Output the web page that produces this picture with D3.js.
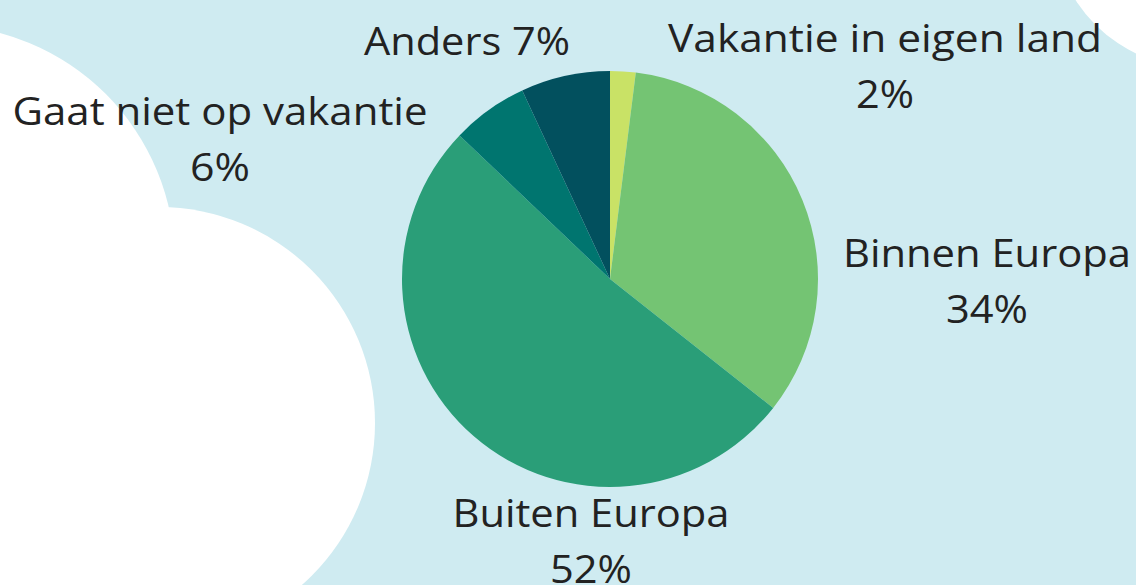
<!DOCTYPE html>
<html>
<head>
<meta charset="utf-8">
<script src="https://cdn.jsdelivr.net/npm/d3@7"></script>
<style>
  html, body { margin: 0; padding: 0; background: #cfebf1; }
  svg { display: block; }
</style>
</head>
<body>
<svg id="chart"></svg>
<script>
// data (clockwise from 12 o'clock)
const categories = ["Vakantie in eigen land", "Binnen Europa", "Buiten Europa", "Gaat niet op vakantie", "Anders"]
const percentages = [2, 34, 52, 6, 7]
const sliceColors = ["#c9e266", "#74c473", "#2a9e78", "#00756f", "#02505e"]

const W = 1136, H = 585

let svg = d3.select("#chart").attr("width", W).attr("height", H)

// light blue sky with white clouds
svg.append("rect").attr("width", W).attr("height", H).attr("fill", "#cfebf1")
let clouds = [
    {cx: -61, cy: 261, r: 236},
    {cx: 159, cy: 423, r: 216},
    {cx: 0, cy: 600, r: 160},
    {cx: 1200, cy: -80, r: 148}
]
svg.selectAll("circle.cloud")
    .data(clouds)
    .join("circle")
    .attr("class", "cloud")
    .attr("cx", d => d.cx).attr("cy", d => d.cy).attr("r", d => d.r)
    .attr("fill", "#ffffff")

// pie
let cx = 610, cy = 279, radius = 208
let pie = d3.pie().sort(null).value(d => d)
let arc = d3.arc().innerRadius(0).outerRadius(radius)
let arcs = pie(percentages)

let g = svg.append("g").attr("transform", "translate(" + cx + "," + cy + ")")
g.selectAll("path")
    .data(arcs)
    .join("path")
    .attr("d", arc)
    .attr("fill", (d, i) => sliceColors[i])

// label placement (centre x, first baseline, text width of each line)
let labelLayout = [
    {x: 885, y: 52, widths: [434, 58], oneLine: false},
    {x: 987, y: 267, widths: [288, 82], oneLine: false},
    {x: 591, y: 527, widths: [277, 82], oneLine: false},
    {x: 220, y: 125, widths: [415, 60], oneLine: false},
    {x: 467, y: 55, widths: [206], oneLine: true}
]

let lineGap = 55.5
categories.forEach(function (name, i) {
    let lay = labelLayout[i]
    let pct = percentages[i] + "%"
    let lines = lay.oneLine ? [name + " " + pct] : [name, pct]
    let t = svg.append("text")
        .attr("text-anchor", "middle")
        .attr("fill", "#222222")
        .style("font-family", "'Open Sans', 'DejaVu Sans', sans-serif")
        .style("font-size", "38px")
    lines.forEach(function (line, j) {
        t.append("tspan")
            .attr("x", lay.x)
            .attr("y", lay.y + j * lineGap)
            .attr("textLength", lay.widths[j])
            .attr("lengthAdjust", "spacingAndGlyphs")
            .text(line)
    })
})
</script>
</body>
</html>
